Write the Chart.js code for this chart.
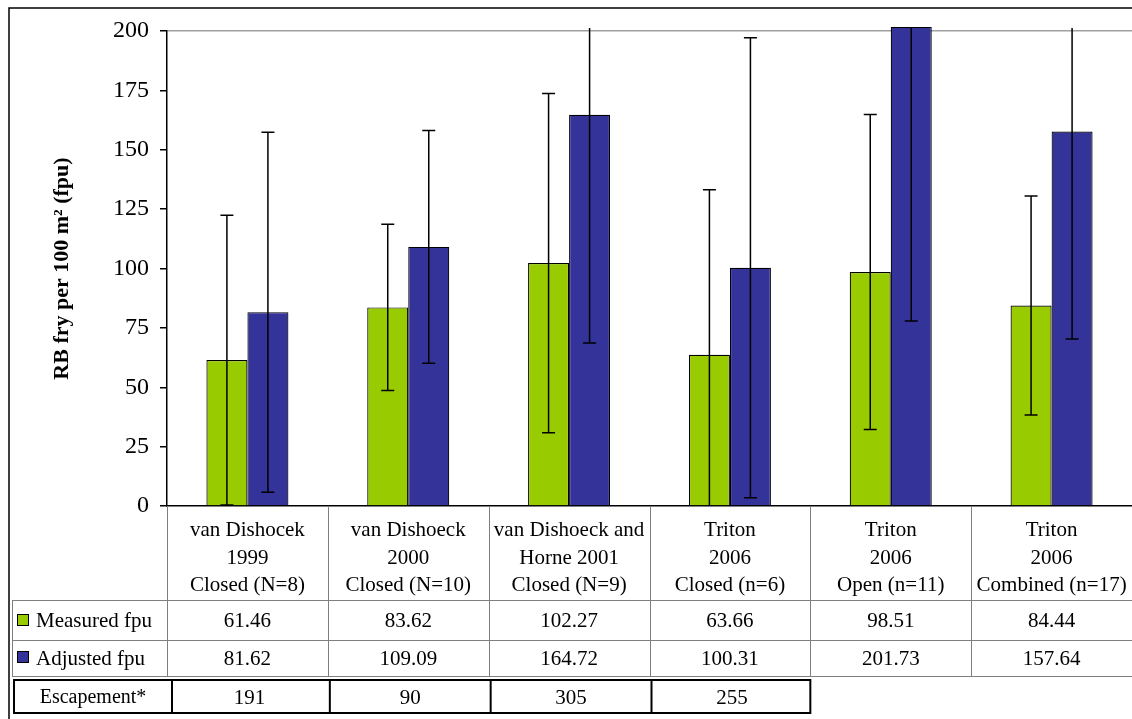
<!DOCTYPE html>
<html>
<head>
<meta charset="utf-8">
<script src="https://cdn.jsdelivr.net/npm/chart.js@4.4.1/dist/chart.umd.min.js"></script>
<style>
  html, body { margin: 0; padding: 0; background: #fff; }
  #wrap { width: 1132px; height: 719px; }
</style>
</head>
<body>
<div id="wrap"><canvas id="fryChart" width="1132" height="719"></canvas></div>
<script>
    // data
    const categories = [
        ['van Dishocek', '1999', 'Closed (N=8)'],
        ['van Dishoeck', '2000', 'Closed (N=10)'],
        ['van Dishoeck and', 'Horne 2001', 'Closed (N=9)'],
        ['Triton', '2006', 'Closed (n=6)'],
        ['Triton', '2006', 'Open (n=11)'],
        ['Triton', '2006', 'Combined (n=17)']
    ];
    const measured = [61.46, 83.62, 102.27, 63.66, 98.51, 84.44];
    const adjusted = [81.62, 109.09, 164.72, 100.31, 201.73, 157.64];
    const measuredErr = [61, 35, 71.4, 69.5, 66.3, 46.1];
    const adjustedErr = [75.8, 49, 96.1, 96.8, 123.8, 87.3];
    const escapement = [191, 90, 305, 255];
    const yTicks = [0, 25, 50, 75, 100, 125, 150, 175, 200];

    const SERIF = '"Liberation Serif", "Times New Roman", serif';
    const GREEN = '#99CC00';
    const BLUE = '#333399';

    // vertical error bars, centred on each bar
    const errorBars = {
        id: 'errorBars',
        afterDatasetsDraw(chart) {
            const { ctx, chartArea } = chart;
            const y = chart.scales.y;
            const errs = [measuredErr, adjustedErr];
            ctx.save();
            ctx.beginPath();
            ctx.rect(chartArea.left, chartArea.top - 3, chartArea.right - chartArea.left, chartArea.bottom - chartArea.top + 3);
            ctx.clip();
            ctx.strokeStyle = '#000';
            ctx.lineWidth = 1.5;
            chart.data.datasets.forEach((ds, d) => {
                chart.getDatasetMeta(d).data.forEach((bar, i) => {
                    const v = ds.data[i], e = errs[d][i];
                    const yt = y.getPixelForValue(v + e);
                    const yb = y.getPixelForValue(v - e);
                    ctx.beginPath();
                    ctx.moveTo(bar.x, yt); ctx.lineTo(bar.x, yb);
                    ctx.moveTo(bar.x - 6.5, yt); ctx.lineTo(bar.x + 6.5, yt);
                    ctx.moveTo(bar.x - 6.5, yb); ctx.lineTo(bar.x + 6.5, yb);
                    ctx.stroke();
                });
            });
            ctx.restore();
        }
    };

    // data table under the plot, frame round the figure
    const dataTable = {
        id: 'dataTable',
        afterDraw(chart) {
            const { ctx, chartArea } = chart;
            const x = chart.scales.x;
            const half = (x.getPixelForValue(1) - x.getPixelForValue(0)) / 2;
            const b = chartArea.bottom;
            const r1 = b + 94, r2 = b + 134, r3 = b + 170;
            const right = chartArea.right;

            ctx.save();
            // outer frame
            ctx.strokeStyle = '#000';
            ctx.lineWidth = 1.5;
            ctx.beginPath();
            ctx.moveTo(9, 719); ctx.lineTo(9, 8); ctx.lineTo(1132, 8);
            ctx.stroke();

            // grey table lines
            ctx.strokeStyle = '#7f7f7f';
            ctx.lineWidth = 1;
            ctx.beginPath();
            for (let i = 0; i <= categories.length; i++) {
                const px = Math.round(x.getPixelForValue(i) - half) + 0.5;
                ctx.moveTo(px, b); ctx.lineTo(px, r3);
            }
            [r1, r2, r3].forEach(yy => { ctx.moveTo(12, yy + 0.5); ctx.lineTo(right, yy + 0.5); });
            ctx.moveTo(12.5, r1); ctx.lineTo(12.5, r3);
            ctx.stroke();

            // legend keys
            [[GREEN, r1 + 14], [BLUE, r2 + 11]].forEach(([c, yy]) => {
                ctx.fillStyle = c;
                ctx.fillRect(17, yy, 12, 12);
                ctx.strokeStyle = '#000';
                ctx.strokeRect(17.5, yy + 0.5, 11, 11);
            });

            ctx.fillStyle = '#000';
            ctx.font = '21px ' + SERIF;
            ctx.textBaseline = 'middle';
            ctx.textAlign = 'left';
            ctx.fillText('Measured fpu', 36, r1 + 21);
            ctx.fillText('Adjusted fpu', 36, r2 + 19);
            ctx.textAlign = 'center';
            measured.forEach((v, i) => ctx.fillText(v.toFixed(2), x.getPixelForValue(i), r1 + 21));
            adjusted.forEach((v, i) => ctx.fillText(v.toFixed(2), x.getPixelForValue(i), r2 + 19));

            // escapement table
            const eTop = r3 + 4, eBot = r3 + 37;
            const eRight = x.getPixelForValue(escapement.length - 1) + half;
            ctx.strokeStyle = '#000';
            ctx.lineWidth = 2;
            ctx.strokeRect(14, eTop, eRight - 14, eBot - eTop);
            ctx.beginPath();
            for (let i = 0; i < escapement.length; i++) {
                const px = i === 0 ? x.getPixelForValue(0) - half + 5 : x.getPixelForValue(i) - half + 2;
                ctx.moveTo(px, eTop); ctx.lineTo(px, eBot);
            }
            ctx.stroke();
            ctx.font = '20px ' + SERIF;
            ctx.fillText('Escapement*', 93, (eTop + eBot) / 2 + 1);
            ctx.font = '21px ' + SERIF;
            escapement.forEach((v, i) => ctx.fillText(String(v), x.getPixelForValue(i) + 2, (eTop + eBot) / 2 + 2));
            ctx.restore();
        }
    };

    new Chart(document.getElementById('fryChart'), {
        type: 'bar',
        data: {
            labels: categories,
            datasets: [
                { label: 'Measured fpu', data: measured, backgroundColor: GREEN, borderColor: '#000', borderWidth: 1.2, clip: 8 },
                { label: 'Adjusted fpu', data: adjusted, backgroundColor: BLUE, borderColor: '#000', borderWidth: 1.2, clip: 8 }
            ]
        },
        options: {
            responsive: false,
            animation: false,
            devicePixelRatio: 1,
            layout: { padding: { top: 31, left: 0, right: 0, bottom: 0 } },
            datasets: { bar: { categoryPercentage: 0.51, barPercentage: 1 } },
            plugins: { legend: { display: false }, tooltip: { enabled: false } },
            scales: {
                x: {
                    grid: { display: false },
                    border: { display: true, color: '#000', width: 1.5 },
                    ticks: {
                        color: '#000', padding: 3, maxRotation: 0, autoSkip: false,
                        font: { family: SERIF, size: 21, lineHeight: 1.31 }
                    },
                    afterFit(scale) {
                        scale.height = 213;
                        scale.paddingLeft = 0;
                        scale.paddingRight = 0;
                    }
                },
                y: {
                    min: 0, max: 200,
                    afterBuildTicks(scale) { scale.ticks = yTicks.map(v => ({ value: v })); },
                    grid: {
                        color: c => (c.tick && c.tick.value === 200 ? '#a0a0a0' : 'rgba(0,0,0,0)'),
                        lineWidth: 1.5,
                        tickColor: '#000',
                        tickLength: 7
                    },
                    border: { display: true, color: '#000', width: 1.5 },
                    ticks: { color: '#000', padding: 11, font: { family: SERIF, size: 24 } },
                    title: {
                        display: true,
                        text: 'RB fry per 100 m² (fpu)',
                        color: '#000',
                        padding: { top: 49 },
                        font: { family: SERIF, size: 22, weight: 'bold' }
                    },
                    afterFit(scale) {
                        scale.width = 167;
                        scale.paddingTop = 0;
                        scale.paddingBottom = 0;
                    }
                }
            }
        },
        plugins: [errorBars, dataTable]
    });
</script>
</body>
</html>
